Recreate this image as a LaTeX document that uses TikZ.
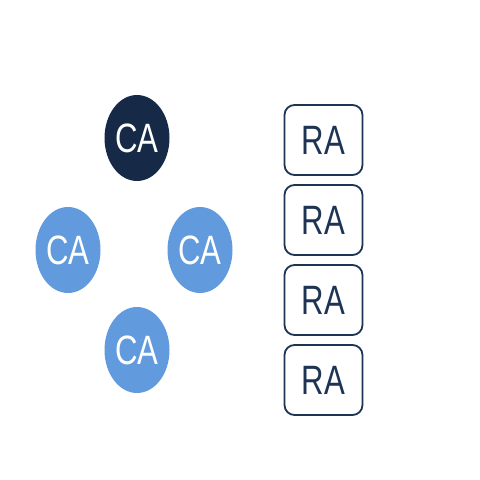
\documentclass[tikz,border=0pt]{standalone}
\usepackage{fontspec}
\setmainfont{Liberation Sans}
\usetikzlibrary{shapes.geometric}
\definecolor{cadark}{RGB}{22,42,72}
\definecolor{calight}{RGB}{98,154,222}
\definecolor{ranavy}{RGB}{30,52,84}
\tikzset{
  canode/.style={ellipse, minimum width=65pt, minimum height=86pt, inner sep=0pt,
    text=white, font=\fontsize{41}{46}\selectfont},
  cadarknode/.style={canode, fill=cadark},
  calightnode/.style={canode, fill=calight},
  ranode/.style={draw=ranavy, line width=1.8pt, rounded corners=10pt,
    minimum width=78pt, minimum height=70pt, inner sep=0pt,
    text=ranavy, font=\fontsize{41}{46}\selectfont}
}
\newcommand{\sq}[1]{\scalebox{0.76}[1]{#1}}
\begin{document}
\begin{tikzpicture}[x=1pt,y=-1pt]
\useasboundingbox (0,0) rectangle (480,480);
\node[cadarknode]  (c0) at (137,138) {\sq{CA}};
\node[calightnode] (c1) at (68,250)  {\sq{CA}};
\node[calightnode] (c2) at (200,250) {\sq{CA}};
\node[calightnode] (c3) at (137,350) {\sq{CA}};
\node[ranode] (r1) at (323.5,140) {\sq{RA}};
\node[ranode] (r2) at (323.5,220) {\sq{RA}};
\node[ranode] (r3) at (323.5,300) {\sq{RA}};
\node[ranode] (r4) at (323.5,380) {\sq{RA}};
\end{tikzpicture}
\end{document}
